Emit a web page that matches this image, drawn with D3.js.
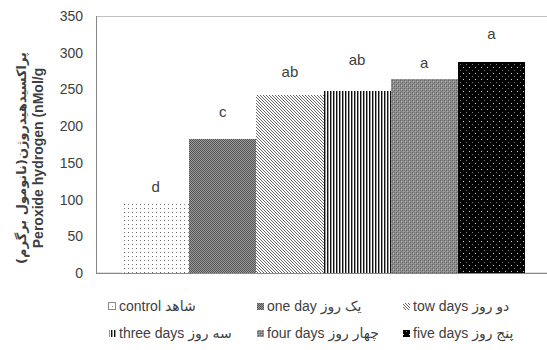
<!DOCTYPE html>
<html>
<head>
<meta charset="UTF-8">
<title></title>
<script src="https://cdn.jsdelivr.net/npm/d3@7"></script>
<style>
  body { margin: 0; background: #fff; }
  svg text { font-family: "Liberation Sans", "DejaVu Sans", sans-serif; fill: #404040; }
</style>
</head>
<body>
<script>
// داده ها
var categories = ["control", "one day", "tow days", "three days", "four days", "five days"];
var values = [98, 182.5, 242.5, 248, 264, 287];
var letters = ["d", "c", "ab", "ab", "a", "a"];
var letterAt = [117, 219, 274, 290, 286, 326]; // height of the letter (chart units)
var legendLabels = ["control شاهد", "one day   یک روز", "tow days دو روز",
                    "three days سه روز", "four days چهار روز", "five days پنج روز"];
var yTicks = [0, 50, 100, 150, 200, 250, 300, 350];

var W = 547, H = 350;
var svg = d3.select("body").append("svg").attr("width", W).attr("height", H);

// patterns
var defs = svg.append("defs");
function pat(id, w, h, bg) {
  var p = defs.append("pattern").attr("id", id).attr("patternUnits", "userSpaceOnUse")
    .attr("width", w).attr("height", h);
  p.append("rect").attr("width", w).attr("height", h).attr("fill", bg);
  return p;
}
function px(p, x, y, c) {
  p.append("rect").attr("x", x).attr("y", y).attr("width", 1).attr("height", 1).attr("fill", c);
}
var p0 = pat("p0", 8, 8, "#fff");
px(p0, 0, 0, "#5a5a5a"); px(p0, 4, 0, "#8a8a8a"); px(p0, 0, 4, "#8a8a8a"); px(p0, 4, 4, "#5a5a5a");
var p1 = pat("p1", 2, 2, "#9a9a9a");
px(p1, 0, 0, "#555"); px(p1, 1, 1, "#555");
var p2 = pat("p2", 3, 3, "#fff");
px(p2, 0, 0, "#666"); px(p2, 1, 1, "#666"); px(p2, 2, 2, "#666");
var p3 = pat("p3", 3, 3, "#fff");
p3.append("rect").attr("x", 0).attr("width", 1).attr("height", 3).attr("fill", "#111");
p3.append("rect").attr("x", 1).attr("width", 1).attr("height", 3).attr("fill", "#999");
var p4 = pat("p4", 4, 4, "#8c8c8c");
px(p4, 0, 0, "#5e5e5e"); px(p4, 2, 2, "#5e5e5e"); px(p4, 1, 1, "#bdbdbd"); px(p4, 3, 3, "#a8a8a8");
px(p4, 2, 0, "#777"); px(p4, 0, 2, "#777");
var p5 = pat("p5", 6, 6, "#000");
px(p5, 1, 1, "#d0d0d0"); px(p5, 4, 4, "#777");
var fills = ["url(#p0)", "url(#p1)", "url(#p2)", "url(#p3)", "url(#p4)", "url(#p5)"];

var y = d3.scaleLinear().domain([0, 350]).range([273, 16]);
var x = d3.scaleBand().domain(categories).range([122, 525]).padding(0);

// plot frame
svg.append("rect").attr("x", 96.5).attr("y", 16.5).attr("width", 460).attr("height", 256.5)
  .attr("fill", "none").attr("stroke", "#c0c0c0");

svg.selectAll("rect.bar").data(categories).enter().append("rect")
  .attr("class", "bar")
  .attr("x", function(d) { return x(d); })
  .attr("y", function(d, i) { return y(values[i]); })
  .attr("width", x.bandwidth())
  .attr("height", function(d, i) { return y(0) - y(values[i]); })
  .attr("fill", function(d, i) { return fills[i]; })
  .attr("shape-rendering", "crispEdges");

svg.append("line").attr("x1", 96.5).attr("x2", 96.5).attr("y1", 16).attr("y2", 273.5)
  .attr("stroke", "#888");
svg.append("line").attr("x1", 96).attr("x2", W).attr("y1", 273.5).attr("y2", 273.5)
  .attr("stroke", "#888");

var axis = d3.axisLeft(y).tickValues(yTicks).tickSize(0).tickPadding(0);
var ga = svg.append("g").attr("transform", "translate(83,0)").call(axis);
ga.select(".domain").remove();
ga.selectAll("text").style("font-size", "14px").attr("fill", "#404040")
  .style("font-family", "Liberation Sans, sans-serif");

// letters
svg.selectAll("text.lt").data(letters).enter().append("text")
  .attr("class", "lt")
  .attr("x", function(d, i) { return x(categories[i]) + x.bandwidth() / 2; })
  .attr("y", function(d, i) { return y(letterAt[i]); })
  .attr("dy", "0.35em")
  .attr("text-anchor", "middle")
  .style("font-size", "15px")
  .text(function(d) { return d; });

// y title
var yt = svg.append("g").attr("transform", "translate(0,158) rotate(-90)");
yt.append("text").attr("x", 0).attr("y", 26).attr("text-anchor", "middle")
  .style("font-size", "13px").style("font-weight", "bold").attr("direction", "rtl")
  .style("font-family", "DejaVu Sans, sans-serif").attr("fill", "#000")
  .text("پراکسیدهیدروژن(نانومول برگرم)");
yt.append("text").attr("x", 0).attr("y", 43).attr("text-anchor", "middle")
  .style("font-size", "14px").style("font-weight", "bold").attr("fill", "#000")
  .text("Peroxide hydrogen (nMol/g");

// legend
var legX = [108, 256, 402], legY = [306, 333];
var lg = svg.selectAll("g.lg").data(legendLabels).enter().append("g")
  .attr("class", "lg")
  .attr("transform", function(d, i) { return "translate(" + legX[i % 3] + "," + legY[Math.floor(i / 3)] + ")"; });
lg.append("rect").attr("x", 0.5).attr("y", -3.5).attr("width", 7).attr("height", 7)
  .attr("fill", function(d, i) { return fills[i]; })
  .attr("stroke", function(d, i) { return i == 0 ? "#888" : "none"; })
  .attr("shape-rendering", "crispEdges");
lg.append("text").attr("x", 11).attr("dy", "0.35em")
  .style("font-size", "14px")
  .text(function(d) { return d; });
</script>
</body>
</html>
